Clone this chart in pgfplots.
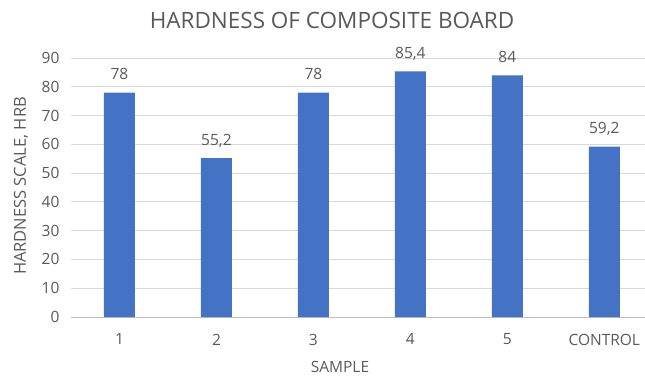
\documentclass[border=0pt]{standalone}
\usepackage{fontspec}
\setmainfont{Open Sans}
\usepackage{pgfplots}
\pgfplotsset{compat=1.18}
\definecolor{barblue}{HTML}{4472C4}
\definecolor{gridgray}{HTML}{D9D9D9}
\definecolor{axisgray}{HTML}{BFBFBF}
\definecolor{txt}{HTML}{595959}
\begin{document}
\begin{tikzpicture}
\path[use as bounding box] (-71pt,-59pt) rectangle (574pt,317pt);
\begin{axis}[
  at={(0pt,0pt)}, anchor=south west,
  scale only axis,
  width=574pt, height=259pt,
  xmin=-0.5, xmax=5.42,
  ymin=0, ymax=90,
  ytick={0,10,...,90},
  xtick={0,1,2,3,4,5},
  xticklabels={1,2,3,4,5,CONTROL},
  axis line style={draw=none},
  tick style={draw=none},
  ymajorgrids,
  grid style={gridgray, line width=0.9pt},
  ybar, bar width=31pt,
  clip=false,
  ticklabel style={font=\fontsize{15.5}{19}\selectfont, text=txt},
  yticklabel style={xshift=-8pt},
  xticklabel style={yshift=-9pt},
  /pgf/number format/assume math mode=true,
  nodes near coords,
  every node near coord/.append style={font=\fontsize{15.5}{19}\selectfont, text=txt, anchor=base, yshift=13pt,
     /pgf/number format/.cd, use comma, fixed, precision=1, 1000 sep={}},
]
\draw[axisgray, line width=1pt] (axis cs:-0.5,0) -- (axis cs:5.42,0);
\addplot[fill=barblue, draw=none] coordinates {(0,78) (1,55.2) (2,78) (3,85.4) (4,84) (5,59.2)};
\end{axis}
\node[text=txt, font=\fontsize{22.5}{26}\selectfont] at (261pt,297pt) {HARDNESS OF COMPOSITE BOARD};
\node[text=txt, font=\fontsize{15.5}{19}\selectfont] at (269pt,-50pt) {SAMPLE};
\node[text=txt, font=\fontsize{16.5}{20}\selectfont, rotate=90] at (-50pt,131pt) {HARDNESS SCALE, HRB};
\end{tikzpicture}
\end{document}
